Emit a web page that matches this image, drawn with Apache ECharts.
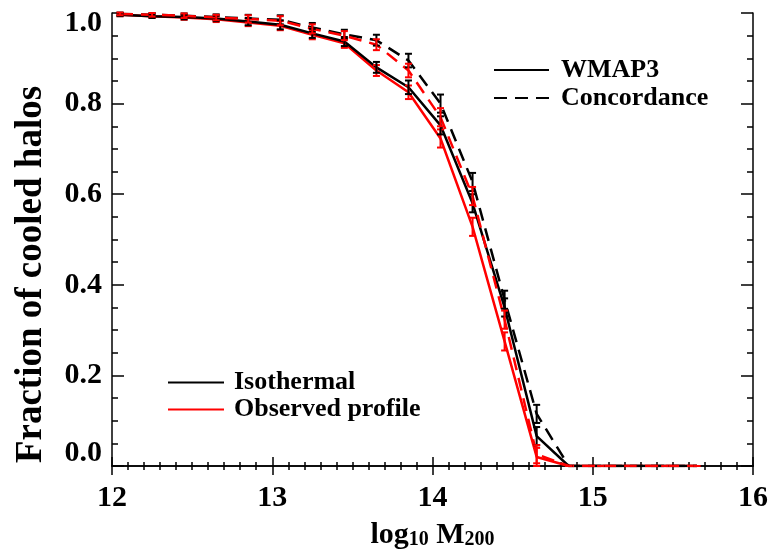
<!DOCTYPE html>
<html>
<head>
<meta charset="utf-8">
<script src="https://cdn.jsdelivr.net/npm/echarts@6/dist/echarts.min.js"></script>
<style>html,body{margin:0;padding:0;background:#fff}#c{width:770px;height:550px}</style>
</head>
<body>
<div id="c"></div>
<script>
var logMass = [12.05, 12.25, 12.45, 12.65, 12.85, 13.05, 13.25, 13.45, 13.65, 13.85, 14.05, 14.25, 14.45, 14.65, 14.85, 15.05, 15.25, 15.45, 15.65];
var wmap3Isothermal = [0.996, 0.993, 0.991, 0.988, 0.981, 0.974, 0.955, 0.937, 0.880, 0.836, 0.752, 0.580, 0.350, 0.066, 0, 0, 0, 0, 0];
var wmap3Observed   = [0.996, 0.993, 0.990, 0.986, 0.979, 0.972, 0.952, 0.933, 0.873, 0.825, 0.723, 0.528, 0.275, 0.020, 0, 0, 0, 0, 0];
var concIsothermal  = [0.998, 0.996, 0.994, 0.991, 0.988, 0.985, 0.968, 0.953, 0.940, 0.895, 0.800, 0.627, 0.367, 0.115, 0, 0, 0, 0, 0];
var concObserved    = [0.998, 0.996, 0.994, 0.990, 0.987, 0.983, 0.965, 0.950, 0.930, 0.873, 0.770, 0.596, 0.323, 0.026, 0, 0, 0, 0, 0];
var errBars         = [0.003, 0.004, 0.005, 0.006, 0.008, 0.010, 0.010, 0.010, 0.012, 0.015, 0.020, 0.020, 0.020, 0.020, 0, 0, 0, 0, 0];
var xTicks = [12, 13, 14, 15, 16];
var yTicks = [0.0, 0.2, 0.4, 0.6, 0.8, 1.0];

var FONT = 'Liberation Serif';
function pairs(ys) { return logMass.map(function (x, i) { return [x, ys[i]]; }); }
function errSeries(ys, color) {
  return {
    type: 'custom', silent: true, z: 5,
    data: logMass.map(function (x, i) { return [x, ys[i] - errBars[i], ys[i] + errBars[i]]; }),
    renderItem: function (params, api) {
      var lo = api.coord([api.value(0), api.value(1)]);
      var hi = api.coord([api.value(0), api.value(2)]);
      var w = 3.5;
      var st = { stroke: color, lineWidth: 2 };
      return { type: 'group', children: [
        { type: 'line', shape: { x1: lo[0], y1: lo[1], x2: hi[0], y2: hi[1] }, style: st },
        { type: 'line', shape: { x1: lo[0] - w, y1: lo[1], x2: lo[0] + w, y2: lo[1] }, style: st },
        { type: 'line', shape: { x1: hi[0] - w, y1: hi[1], x2: hi[0] + w, y2: hi[1] }, style: st }
      ]};
    }
  };
}
function lineSeries(name, ys, color, dashed, z) {
  return { name: name, type: 'line', data: pairs(ys), symbol: 'none', showSymbol: false, z: z,
    lineStyle: { color: color, width: 2.5, type: dashed ? [13, 8] : 'solid' },
    itemStyle: { color: color }, clip: true };
}
function dummy(name, color, dashed) {
  return { name: name, type: 'line', data: [], symbol: 'none', showSymbol: false,
    lineStyle: { color: color, width: 2.5, type: dashed ? [13, 8] : 'solid' }, itemStyle: { color: color } };
}
var lbl = { fontFamily: FONT, fontWeight: 'bold', fontSize: 30, color: '#000' };
var legendText = { fontFamily: FONT, fontWeight: 'bold', fontSize: 26, color: '#000' };
var hiddenSym = { color: 'rgba(0,0,0,0)', borderColor: 'rgba(0,0,0,0)', borderWidth: 0, opacity: 0 };
var option = {
  animation: false,
  backgroundColor: '#fff',
  grid: { left: 112, right: 17, top: 13, bottom: 84, containLabel: false, outerBoundsMode: 'none' },
  legend: [
    { data: ['WMAP3', 'Concordance'],
      orient: 'vertical', left: 488, top: 51, itemWidth: 55, itemHeight: 28, itemGap: 0,
      selectedMode: false, itemStyle: hiddenSym,
      textStyle: Object.assign({ lineHeight: 28, padding: [0, 0, 0, 7] }, legendText) },
    { data: ['Isothermal', 'Observed profile'],
      orient: 'vertical', left: 162, top: 364, itemWidth: 56, itemHeight: 27, itemGap: 0,
      selectedMode: false, itemStyle: hiddenSym,
      textStyle: Object.assign({ lineHeight: 27, padding: [0, 0, 0, 5] }, legendText) }
  ],
  xAxis: [
    { type: 'value', min: 12, max: 16, interval: 1, position: 'bottom',
      name: '{a|log}{s|10}{a| M}{s|200}', nameLocation: 'middle', nameGap: 52,
      nameTextStyle: { rich: {
        a: { fontFamily: FONT, fontWeight: 'bold', fontSize: 30, color: '#000', verticalAlign: 'bottom', lineHeight: 32 },
        s: { fontFamily: FONT, fontWeight: 'bold', fontSize: 20, color: '#000', verticalAlign: 'bottom', lineHeight: 32, padding: [12, 0, 0, 0] } } },
      axisLine: { show: true, lineStyle: { color: '#000', width: 1.5 } },
      axisTick: { show: true, inside: true, length: 9, lineStyle: { color: '#000', width: 1.5 } },
      minorTick: { show: true, splitNumber: 10, length: 4, lineStyle: { color: '#000', width: 1.5 } },
      splitLine: { show: false },
      axisLabel: Object.assign({ margin: 17, formatter: function (v) { return xTicks.indexOf(v) >= 0 ? String(v) : ''; } }, lbl) },
    { type: 'value', min: 12, max: 16, interval: 1, position: 'top',
      axisLine: { show: true, lineStyle: { color: '#000', width: 1.5 } },
      axisTick: { show: true, inside: true, length: 9, lineStyle: { color: '#000', width: 1.5 } },
      minorTick: { show: true, splitNumber: 10, length: 4, lineStyle: { color: '#000', width: 1.5 } },
      splitLine: { show: false }, axisLabel: { show: false } }
  ],
  yAxis: [
    { type: 'value', min: 0, max: 1, interval: 0.2, position: 'left',
      name: 'Fraction of cooled halos', nameLocation: 'middle', nameGap: 62, nameRotate: 90,
      nameTextStyle: { fontFamily: FONT, fontWeight: 'bold', fontSize: 37, color: '#000', padding: [0, 70, 0, 0] },
      axisLine: { show: true, lineStyle: { color: '#000', width: 1.5 } },
      axisTick: { show: true, inside: true, length: 12, lineStyle: { color: '#000', width: 1.5 } },
      minorTick: { show: true, splitNumber: 4, length: 6, lineStyle: { color: '#000', width: 1.5 } },
      splitLine: { show: false },
      axisLabel: { margin: 10, formatter: function (v) {
          var s = v.toFixed(1);
          if (Math.abs(v) < 1e-9) return '{lo|' + s + '}';
          if (Math.abs(v - 1) < 1e-9) return '{hi|' + s + '}';
          return '{n|' + s + '}';
        },
        rich: { n: lbl, lo: Object.assign({ padding: [0, 0, 26, 0] }, lbl), hi: Object.assign({ padding: [20, 0, 0, 0] }, lbl) } } },
    { type: 'value', min: 0, max: 1, interval: 0.2, position: 'right',
      axisLine: { show: true, lineStyle: { color: '#000', width: 1.5 } },
      axisTick: { show: true, inside: true, length: 12, lineStyle: { color: '#000', width: 1.5 } },
      minorTick: { show: true, splitNumber: 4, length: 6, lineStyle: { color: '#000', width: 1.5 } },
      splitLine: { show: false }, axisLabel: { show: false } }
  ],
  series: [
    lineSeries('WMAP3 Observed', wmap3Observed, '#ff0000', false, 2),
    lineSeries('WMAP3 Isothermal', wmap3Isothermal, '#000000', false, 3),
    lineSeries('Concordance Isothermal', concIsothermal, '#000000', true, 3),
    lineSeries('Concordance Observed', concObserved, '#ff0000', true, 4),
    errSeries(wmap3Observed, '#ff0000'),
    errSeries(wmap3Isothermal, '#000000'),
    errSeries(concIsothermal, '#000000'),
    errSeries(concObserved, '#ff0000'),
    dummy('WMAP3', '#000000', false),
    dummy('Concordance', '#000000', true),
    dummy('Isothermal', '#000000', false),
    dummy('Observed profile', '#ff0000', false)
  ]
};
echarts.init(document.getElementById('c'), null, { renderer: 'canvas' }).setOption(option);
</script>
</body>
</html>
